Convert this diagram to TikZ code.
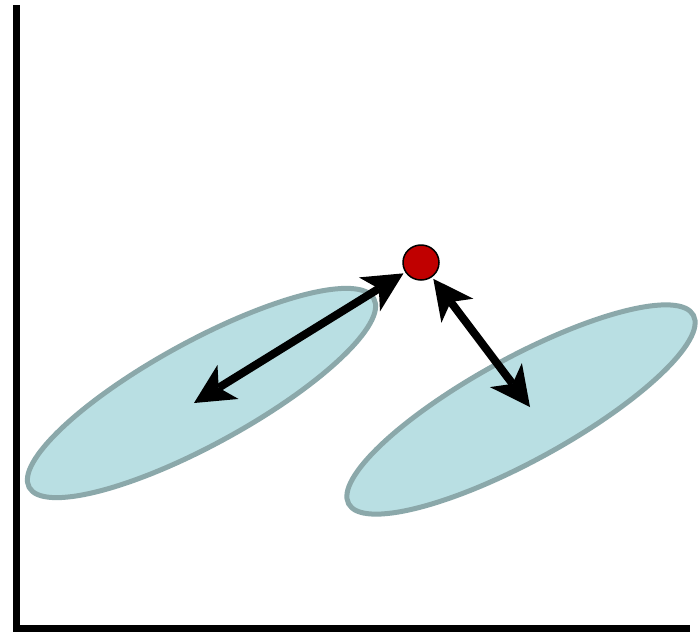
\documentclass[tikz,border=0pt]{standalone}
\usetikzlibrary{shapes.geometric,arrows.meta}
\definecolor{blobfill}{HTML}{B9DFE3}
\definecolor{blobline}{HTML}{8BA8AA}
\definecolor{dotred}{HTML}{C00000}
\tikzset{
  blob/.style={ellipse, draw=blobline, fill=blobfill, line width=5pt, inner sep=0pt,
    minimum width=393pt, minimum height=103pt, rotate=28.7},
  point/.style={ellipse, draw=black, fill=dotred, line width=1.5pt, inner sep=0pt,
    minimum width=36pt, minimum height=35pt},
  axis/.style={line width=7pt, line join=miter},
  dist/.style={line width=8pt, shorten <=2pt,
    {Stealth[length=40pt,width=40pt,inset=11pt,line width=0pt]}-{Stealth[length=40pt,width=40pt,inset=11pt,line width=0pt]}}
}
\begin{document}
\begin{tikzpicture}[x=1pt,y=-1pt]
\useasboundingbox (0,0) rectangle (699,632);
\coordinate (ytop) at (16.5,5);
\coordinate (origin) at (16.5,628.5);
\coordinate (xend) at (690,628.5);
\draw[axis] (ytop) -- (origin) -- (xend);
\node[blob] (c1) at (201.5,393) {};
\node[blob] (c2) at (521,409.5) {};
\node[point] (dot) at (421,262.5) {};
\coordinate (t1) at (194,403);
\coordinate (t2) at (530,407);
\draw[dist] (dot) -- (t1);
\draw[dist] (dot) -- (t2);
\end{tikzpicture}
\end{document}
